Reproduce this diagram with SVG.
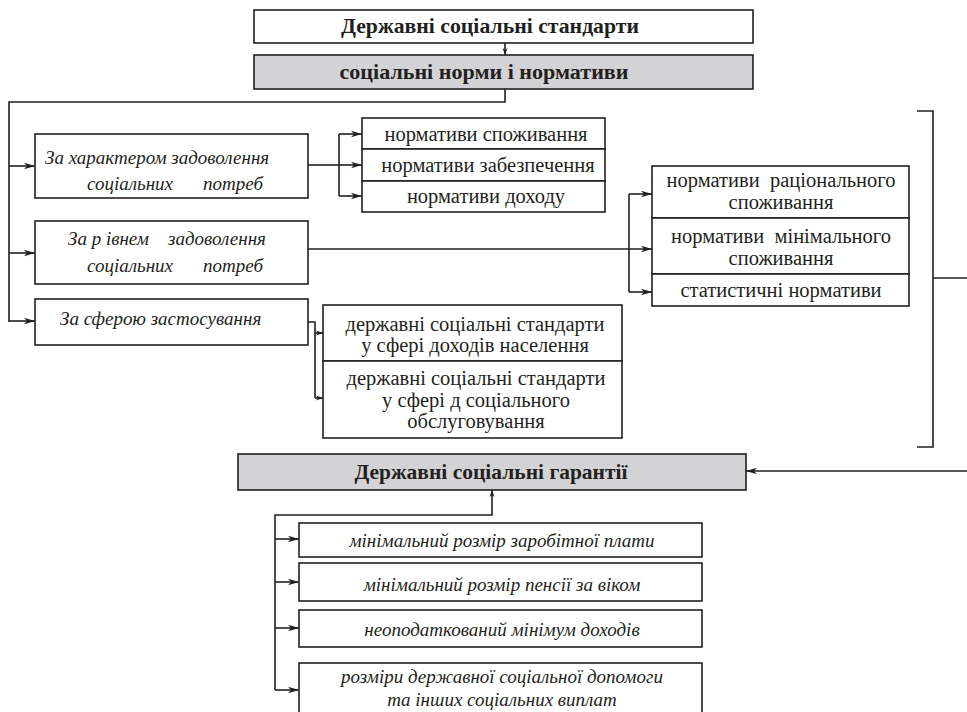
<svg xmlns="http://www.w3.org/2000/svg" width="967" height="712" viewBox="0 0 967 712">
<style>
.box{fill:#fff;stroke:#231f20;stroke-width:1.6}
.gray{fill:#d3d3d5}
.ln{fill:none;stroke:#231f20;stroke-width:1.6}
.t{font-family:"Liberation Serif","Times New Roman",serif;font-size:20.5px;fill:#231f20}
.it{font-style:italic;font-size:19px}
.b{font-weight:bold;font-size:21px}
.c{text-anchor:middle}
</style>
<defs>
<marker id="ah" markerUnits="userSpaceOnUse" markerWidth="12" markerHeight="8" refX="11" refY="4" orient="auto">
<path d="M0,0.8 L11,4 L0,7.2 L3,4 Z" fill="#231f20"/>
</marker>
<marker id="ahs" markerUnits="userSpaceOnUse" markerWidth="8" markerHeight="6" refX="7" refY="3" orient="auto">
<path d="M0,0.5 L7,3 L0,5.5 L2,3 Z" fill="#231f20"/>
</marker>
</defs>
<rect width="967" height="712" fill="#fff"/>

<g id="connectors">
<line class="ln" x1="505" y1="43" x2="505" y2="55" marker-end="url(#ahs)"/>
<polyline class="ln" points="505,89 505,102 9,102 9,322"/>
<line class="ln" x1="9" y1="166" x2="35" y2="166" marker-end="url(#ah)"/>
<line class="ln" x1="9" y1="253" x2="35" y2="253" marker-end="url(#ah)"/>
<line class="ln" x1="9" y1="321" x2="35" y2="321" marker-end="url(#ah)"/>
<line class="ln" x1="308" y1="165" x2="339" y2="165"/>
<line class="ln" x1="339" y1="134" x2="339" y2="196"/>
<line class="ln" x1="339" y1="134" x2="362" y2="134" marker-end="url(#ah)"/>
<line class="ln" x1="339" y1="165" x2="362" y2="165" marker-end="url(#ah)"/>
<line class="ln" x1="339" y1="196" x2="362" y2="196" marker-end="url(#ah)"/>
<line class="ln" x1="308" y1="249" x2="652" y2="249" marker-end="url(#ah)"/>
<line class="ln" x1="629" y1="194" x2="629" y2="292"/>
<line class="ln" x1="629" y1="194" x2="652" y2="194" marker-end="url(#ah)"/>
<line class="ln" x1="629" y1="292" x2="652" y2="292" marker-end="url(#ah)"/>
<polyline class="ln" points="308,322 315,322 315,398"/>
<line class="ln" x1="315" y1="333" x2="323" y2="333" marker-end="url(#ahs)"/>
<line class="ln" x1="315" y1="398" x2="323" y2="398" marker-end="url(#ahs)"/>
<polyline class="ln" points="917,111 933,111 933,447 917,447"/>
<line class="ln" x1="933" y1="278" x2="967" y2="278"/>
<line class="ln" x1="967" y1="471" x2="746" y2="471" marker-end="url(#ah)"/>
<polyline class="ln" points="275,690 275,515 492,515 492,490" marker-end="url(#ahs)"/>
<line class="ln" x1="275" y1="539" x2="299" y2="539" marker-end="url(#ah)"/>
<line class="ln" x1="275" y1="582" x2="299" y2="582" marker-end="url(#ah)"/>
<line class="ln" x1="275" y1="628" x2="299" y2="628" marker-end="url(#ah)"/>
<line class="ln" x1="275" y1="690" x2="299" y2="690" marker-end="url(#ah)"/>
</g>

<g id="n-standards">
<rect class="box" x="254" y="10" width="499" height="33"/>
<text class="t b c" x="490" y="33" textLength="298" lengthAdjust="spacingAndGlyphs">Державні соціальні стандарти</text>
</g>
<g id="n-norms">
<rect class="box gray" x="254" y="55" width="499" height="34"/>
<text class="t b c" x="484" y="79" textLength="289" lengthAdjust="spacingAndGlyphs">соціальні норми і нормативи</text>
</g>

<g id="n-character">
<rect class="box" x="35" y="134" width="273" height="64"/>
<text class="t it" x="45" y="164">За характером задоволення</text>
<text class="t it" x="87" y="190">соціальних</text>
<text class="t it" x="203" y="190">потреб</text>
</g>
<g id="n-level">
<rect class="box" x="35" y="221" width="273" height="63"/>
<text class="t it" x="68" y="245">За р івнем</text>
<text class="t it" x="168" y="245">задоволення</text>
<text class="t it" x="87" y="272">соціальних</text>
<text class="t it" x="203" y="272">потреб</text>
</g>
<g id="n-sphere">
<rect class="box" x="35" y="299" width="273" height="46"/>
<text class="t it" x="60" y="325">За сферою застосування</text>
</g>

<g id="n-consumption">
<rect class="box" x="362" y="118" width="243" height="31"/>
<text class="t c" x="486" y="141">нормативи споживання</text>
</g>
<g id="n-provision">
<rect class="box" x="362" y="149" width="243" height="32"/>
<text class="t c" x="488" y="172">нормативи забезпечення</text>
</g>
<g id="n-income">
<rect class="box" x="362" y="181" width="243" height="31"/>
<text class="t c" x="486" y="203">нормативи доходу</text>
</g>

<g id="n-rational">
<rect class="box" x="652" y="166" width="257" height="52"/>
<text class="t c" x="781" y="187" xml:space="preserve">нормативи  раціонального</text>
<text class="t c" x="781" y="209">споживання</text>
</g>
<g id="n-minimal">
<rect class="box" x="652" y="218" width="257" height="56"/>
<text class="t c" x="781" y="243" xml:space="preserve">нормативи  мінімального</text>
<text class="t c" x="781" y="265">споживання</text>
</g>
<g id="n-statistical">
<rect class="box" x="652" y="274" width="257" height="32"/>
<text class="t c" x="781" y="297">статистичні нормативи</text>
</g>

<g id="n-income-sphere">
<rect class="box" x="323" y="305" width="299" height="56"/>
<text class="t c" x="475" y="331">державні соціальні стандарти</text>
<text class="t c" x="475" y="352">у сфері доходів населення</text>
</g>
<g id="n-service-sphere">
<rect class="box" x="323" y="361" width="299" height="77"/>
<text class="t c" x="476" y="385">державні соціальні стандарти</text>
<text class="t c" x="476" y="407">у сфері д соціального</text>
<text class="t c" x="476" y="428">обслуговування</text>
</g>

<g id="n-guarantees">
<rect class="box gray" x="238" y="454" width="508" height="36"/>
<text class="t b c" x="491" y="479" textLength="273" lengthAdjust="spacingAndGlyphs">Державні соціальні гарантії</text>
</g>

<g id="n-wage">
<rect class="box" x="299" y="523" width="403" height="34"/>
<text class="t it c" x="502" y="547">мінімальний розмір заробітної плати</text>
</g>
<g id="n-pension">
<rect class="box" x="299" y="563" width="403" height="38"/>
<text class="t it c" x="502" y="591">мінімальний розмір пенсії за віком</text>
</g>
<g id="n-untaxed">
<rect class="box" x="299" y="610" width="403" height="37"/>
<text class="t it c" x="502" y="636">неоподаткований мінімум доходів</text>
</g>
<g id="n-aid">
<rect class="box" x="299" y="663" width="403" height="60"/>
<text class="t it c" x="502" y="683">розміри державної соціальної допомоги</text>
<text class="t it c" x="502" y="706">та інших соціальних виплат</text>
</g>
</svg>
